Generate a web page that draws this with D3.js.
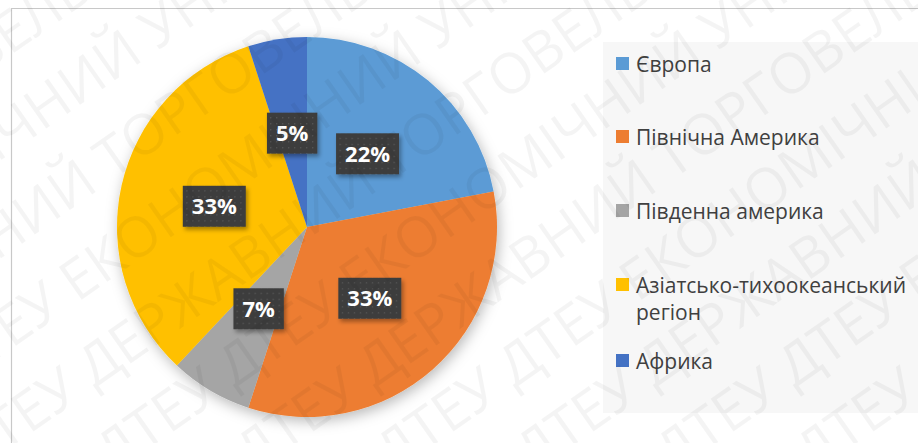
<html>
<head>
<meta charset="utf-8">
<script src="https://d3js.org/d3.v7.min.js"></script>
<style>
  body { margin: 0; background: #fff; }
  text { font-family: "Open Sans", sans-serif; }
</style>
</head>
<body>
<svg width="918" height="443"></svg>
<script>
// chart data
const regions = ["Європа", "Північна Америка", "Південна америка", "Азіатсько-тихоокеанський регіон", "Африка"];
const shares = [22, 33, 7, 33, 5];
const colours = ["#5B9BD5", "#ED7D31", "#A5A5A5", "#FFC000", "#4472C4"];
const legendLines = [["Європа"], ["Північна Америка"], ["Південна америка"], ["Азіатсько-тихоокеанський", "регіон"], ["Африка"]];
const watermark = ["ДТЕУ ДТЕУ ДЕРЖАВНИЙ ТОРГОВЕЛЬНО-ЕКОНОМІЧНИЙ УНІВЕРСИТЕТ ДТЕУ ДТЕУ",
                   "ДТЕУ ДТЕУ ДТЕУ ЕКОНОМІЧНИЙ УНІВЕРСИТЕТ ДТЕУ ДТЕУ ДТЕУ"];

const svg = d3.select("svg");
const defs = svg.append("defs");

const sh = defs.append("filter").attr("id", "shadow")
  .attr("x", "-20%").attr("y", "-20%").attr("width", "140%").attr("height", "140%");
sh.append("feDropShadow").attr("dx", 2).attr("dy", 4).attr("stdDeviation", 7)
  .attr("flood-color", "#000").attr("flood-opacity", 0.28);

const lsh = defs.append("filter").attr("id", "lshadow")
  .attr("x", "-30%").attr("y", "-30%").attr("width", "160%").attr("height", "160%");
lsh.append("feDropShadow").attr("dx", 2).attr("dy", 3).attr("stdDeviation", 2)
  .attr("flood-color", "#000").attr("flood-opacity", 0.35);

const pat = defs.append("pattern").attr("id", "dots")
  .attr("width", 6).attr("height", 6).attr("patternUnits", "userSpaceOnUse");
pat.append("rect").attr("width", 6).attr("height", 6).attr("fill", "#3d3d3d");
pat.append("rect").attr("x", 2).attr("y", 2).attr("width", 1.2).attr("height", 1.2).attr("fill", "#5a5a5a");

// frame
svg.append("path").attr("d", "M11.5,443 V8.5 H918")
  .attr("fill", "none").attr("stroke", "#c8c8c8").attr("stroke-width", 1.2);

// legend panel
svg.append("rect").attr("x", 603).attr("y", 42).attr("width", 315).attr("height", 371)
  .attr("fill", "#f7f7f7");

const cx = 307, cy = 227, r = 190;

const pie = d3.pie().sort(null).value(d => d)(shares);
const arc = d3.arc().innerRadius(0).outerRadius(r);
const labelArc = d3.arc().innerRadius(r * 0.5).outerRadius(r * 0.5);

const g = svg.append("g").attr("transform", `translate(${cx},${cy})`);
g.append("g").attr("filter", "url(#shadow)")
  .selectAll("path").data(pie).join("path")
  .attr("d", arc)
  .attr("fill", (d, i) => colours[i]);

const lab = g.selectAll("g.lab").data(pie).join("g").attr("class", "lab")
  .attr("transform", d => `translate(${labelArc.centroid(d)})`);
lab.each(function(d) {
  const s = d3.select(this);
  const t = s.append("text").attr("text-anchor", "middle").attr("dy", "0.36em")
    .attr("font-size", 22).attr("font-weight", 700).attr("fill", "#fff")
    .text(d.data + "%");
  const w = t.node().getComputedTextLength() + 18;
  s.insert("rect", "text").attr("x", -w / 2).attr("y", -20.5).attr("width", w).attr("height", 41)
    .attr("fill", "url(#dots)").attr("filter", "url(#lshadow)");
});

// legend
const ys = [64, 137, 211, 285, 361];
const leg = svg.append("g").selectAll("g").data(regions).join("g")
  .attr("transform", (d, i) => `translate(616,${ys[i]})`);
leg.append("rect").attr("x", 0).attr("y", -7).attr("width", 13).attr("height", 13)
  .attr("fill", (d, i) => colours[i]);
leg.append("text").attr("x", 20).attr("y", 0)
  .attr("font-size", 21).attr("fill", "#404040")
  .selectAll("tspan").data((d, i) => legendLines[i]).join("tspan")
  .attr("x", 20).attr("dy", (t, j) => j === 0 ? "0.36em" : "1.33em")
  .text(t => t);

// faint watermark on top
const wm = svg.append("g").attr("pointer-events", "none")
  .attr("fill", "#000").attr("fill-opacity", 0.045)
  .attr("font-size", 56);
for (let k = -4; k < 8; k++) {
  wm.append("text")
    .attr("transform", `translate(${-150 + k * 140},${560}) rotate(-35)`)
    .text(watermark[(k + 8) % 2]);
}
</script>
</body>
</html>
